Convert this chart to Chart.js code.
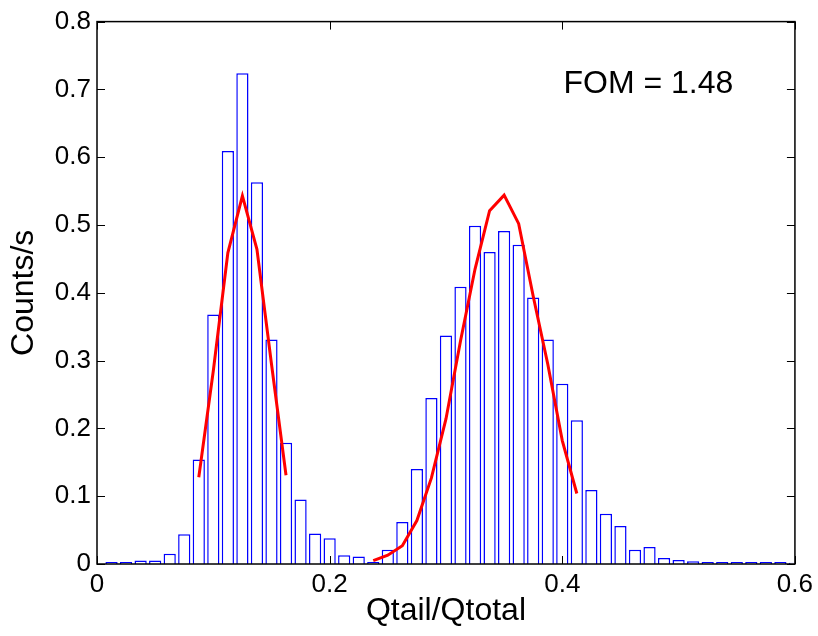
<!DOCTYPE html>
<html>
<head>
<meta charset="utf-8">
<title>Qtail/Qtotal histogram</title>
<script src="https://cdn.jsdelivr.net/npm/chart.js@4.4.1/dist/chart.umd.min.js"></script>
<style>
  html, body { margin: 0; padding: 0; background: #ffffff; }
  #chart { display: block; }
</style>
</head>
<body>
<canvas id="chart" width="818" height="636"></canvas>
<script>
// Histogram bin centres (Qtail/Qtotal)
const binCenters = [
  0.0125, 0.025, 0.0375, 0.05, 0.0625, 0.075, 0.0875, 0.1, 0.1125, 0.125,
  0.1375, 0.15, 0.1625, 0.175, 0.1875, 0.2, 0.2125, 0.225, 0.2375, 0.25,
  0.2625, 0.275, 0.2875, 0.3, 0.3125, 0.325, 0.3375, 0.35, 0.3625, 0.375,
  0.3875, 0.4, 0.4125, 0.425, 0.4375, 0.45, 0.4625, 0.475, 0.4875, 0.5,
  0.5125, 0.525, 0.5375, 0.55, 0.5625, 0.575, 0.5875, 0.6
];

// Counts/s in each bin
const binCounts = [
  0.003, 0.003, 0.005, 0.005, 0.015, 0.044, 0.154, 0.368, 0.609, 0.724,
  0.563, 0.331, 0.179, 0.095, 0.045, 0.038, 0.013, 0.011, 0.003, 0.021,
  0.062, 0.140, 0.245, 0.337, 0.409, 0.499, 0.460, 0.491, 0.471, 0.393,
  0.331, 0.266, 0.212, 0.109, 0.074, 0.056, 0.021, 0.025, 0.009, 0.006,
  0.004, 0.003, 0.003, 0.003, 0.003, 0.003, 0.003, 0.002
];

// Gaussian fit of the left peak
const fitLeftX = [0.0875, 0.1, 0.1125, 0.125, 0.1375, 0.15, 0.1625];
const fitLeftY = [0.128, 0.285, 0.459, 0.543, 0.464, 0.295, 0.131];

// Gaussian fit of the right peak
const fitRightX = [
  0.2375, 0.25, 0.2625, 0.275, 0.2875, 0.3, 0.3125, 0.325,
  0.3375, 0.35, 0.3625, 0.375, 0.3875, 0.4, 0.4125
];
const fitRightY = [
  0.005, 0.013, 0.027, 0.064, 0.127, 0.214, 0.329, 0.435,
  0.521, 0.544, 0.502, 0.395, 0.295, 0.182, 0.104
];

// Axis ticks
const xTickValues = [0, 0.2, 0.4, 0.6];
const xTickLabels = ["0", "0.2", "0.4", "0.6"];
const yTickValues = [0, 0.1, 0.2, 0.3, 0.4, 0.5, 0.6, 0.7, 0.8];
const yTickLabels = ["0", "0.1", "0.2", "0.3", "0.4", "0.5", "0.6", "0.7", "0.8"];

// Annotation
const fomText = "FOM = 1.48";
const fomPos = { x: 0.401, y: 0.708 };

const FONT = "'Liberation Sans', Arial, Helvetica, sans-serif";

const toPoints = (xs, ys) => xs.map((x, i) => ({ x: x, y: ys[i] }));

// Draws the MATLAB style box, inward ticks and the FOM label
const axesBoxPlugin = {
  id: "axesBox",
  afterDatasetsDraw(chart) {
    const { ctx, chartArea, scales } = chart;
    const { left, right, top, bottom } = chartArea;
    const tickLen = 8;
    ctx.save();
    ctx.strokeStyle = "#000000";
    ctx.lineWidth = 1.5;
    ctx.strokeRect(left, top, right - left, bottom - top);

    ctx.lineWidth = 1;
    ctx.beginPath();
    xTickValues.forEach((v) => {
      const px = Math.round(scales.x.getPixelForValue(v)) + 0.5;
      ctx.moveTo(px, bottom);
      ctx.lineTo(px, bottom - tickLen);
      ctx.moveTo(px, top);
      ctx.lineTo(px, top + tickLen);
    });
    yTickValues.forEach((v) => {
      const py = Math.round(scales.y.getPixelForValue(v)) + 0.5;
      ctx.moveTo(left, py);
      ctx.lineTo(left + tickLen, py);
      ctx.moveTo(right, py);
      ctx.lineTo(right - tickLen, py);
    });
    ctx.stroke();

    ctx.fillStyle = "#000000";
    ctx.font = "32px " + FONT;
    ctx.textAlign = "left";
    ctx.textBaseline = "middle";
    ctx.fillText(
      fomText,
      scales.x.getPixelForValue(fomPos.x),
      scales.y.getPixelForValue(fomPos.y)
    );
    ctx.restore();
  },
};

const ctx = document.getElementById("chart").getContext("2d");

new Chart(ctx, {
  type: "bar",
  data: {
    datasets: [
      {
        type: "line",
        data: toPoints(fitLeftX, fitLeftY),
        borderColor: "#ff0000",
        borderWidth: 3,
        pointRadius: 0,
        tension: 0,
        fill: false,
        order: 1,
      },
      {
        type: "line",
        data: toPoints(fitRightX, fitRightY),
        borderColor: "#ff0000",
        borderWidth: 3,
        pointRadius: 0,
        tension: 0,
        fill: false,
        order: 1,
      },
      {
        type: "bar",
        data: toPoints(binCenters, binCounts),
        backgroundColor: "#ffffff",
        borderColor: "#0000ff",
        borderWidth: 1.5,
        barPercentage: 0.84,
        categoryPercentage: 1,
        order: 2,
      },
    ],
  },
  options: {
    responsive: false,
    devicePixelRatio: 1,
    animation: false,
    layout: {
      padding: { left: 0, right: 19, top: 19, bottom: 0 },
    },
    plugins: {
      legend: { display: false },
      tooltip: { enabled: false },
    },
    scales: {
      x: {
        type: "linear",
        min: 0,
        max: 0.6,
        offset: false,
        grid: { display: false, drawTicks: false },
        border: { display: false },
        afterFit: (scale) => {
          scale.height = 72;
        },
        afterBuildTicks: (scale) => {
          scale.ticks = xTickValues.map((v) => ({ value: v }));
        },
        ticks: {
          padding: 5,
          color: "#000000",
          font: { family: FONT, size: 26 },
          maxRotation: 0,
          callback: (value, index) => xTickLabels[index],
        },
        title: {
          display: true,
          text: "Qtail/Qtotal",
          color: "#000000",
          font: { family: FONT, size: 32 },
          padding: { top: 0, bottom: 6 },
        },
      },
      y: {
        type: "linear",
        min: 0,
        max: 0.8,
        grid: { display: false, drawTicks: false },
        border: { display: false },
        afterFit: (scale) => {
          scale.width = 97;
        },
        afterBuildTicks: (scale) => {
          scale.ticks = yTickValues.map((v) => ({ value: v }));
        },
        ticks: {
          padding: 6,
          color: "#000000",
          font: { family: FONT, size: 26 },
          callback: (value, index) => yTickLabels[index],
        },
        title: {
          display: true,
          text: "Counts/s",
          color: "#000000",
          font: { family: FONT, size: 32 },
          padding: { top: 5, bottom: 0 },
        },
      },
    },
  },
  plugins: [axesBoxPlugin],
});
</script>
</body>
</html>
